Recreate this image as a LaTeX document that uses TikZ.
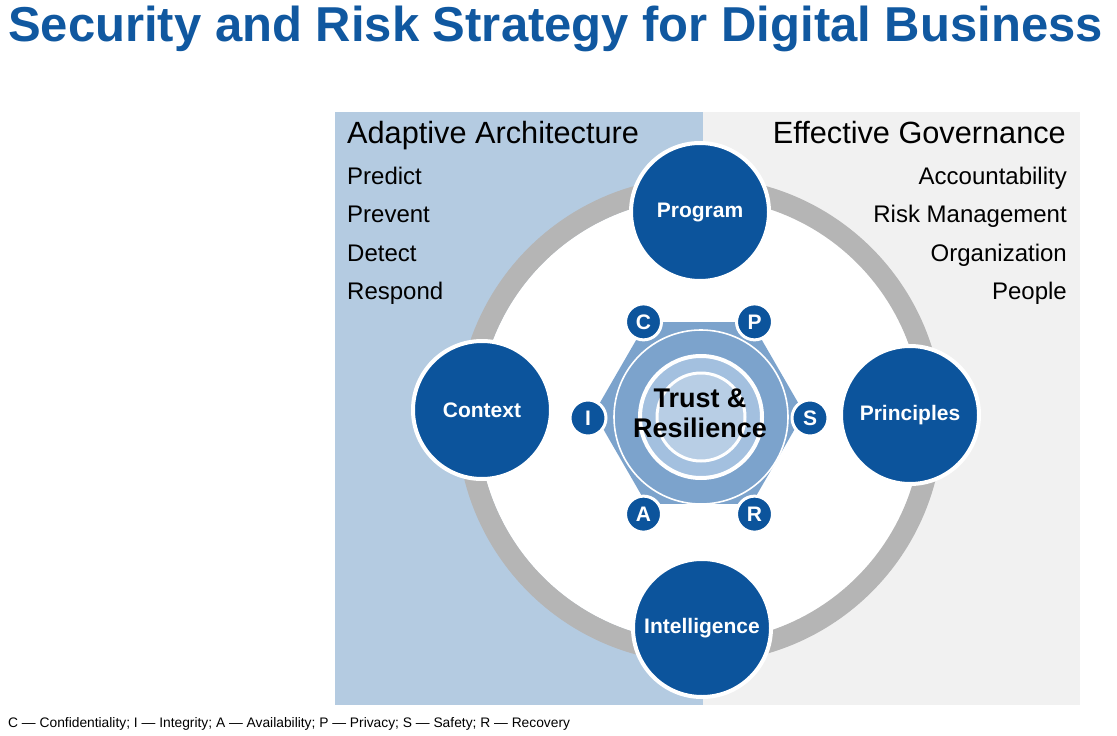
\documentclass[tikz,border=0pt]{standalone}
\usepackage{fontspec}
\setmainfont{Liberation Sans}
\usetikzlibrary{calc}

\definecolor{titleblue}{RGB}{16,88,160}
\definecolor{deepblue}{RGB}{12,84,156}
\definecolor{panelblue}{RGB}{180,203,225}
\definecolor{panelgray}{RGB}{241,241,241}
\definecolor{ringgray}{RGB}{181,181,181}
\definecolor{hexblue}{RGB}{124,163,204}
\definecolor{midblue}{RGB}{163,192,223}
\definecolor{coreblue}{RGB}{184,206,229}

\tikzset{
  pillar/.style={circle, fill=deepblue, draw=white, line width=4pt,
    minimum size=138pt, inner sep=0pt, text=white,
    font=\fontsize{21}{24}\selectfont\bfseries},
  badge/.style={circle, fill=deepblue, draw=white, line width=3pt,
    minimum size=36pt, inner sep=0pt, text=white,
    font=\fontsize{21}{23}\selectfont\bfseries},
  heading/.style={inner sep=0pt, font=\fontsize{30.7}{34}\selectfont},
  item/.style={inner sep=0pt, font=\fontsize{24}{28}\selectfont},
}

\begin{document}
\begin{tikzpicture}[x=1pt,y=-1pt]
  \useasboundingbox[fill=white] (0,0) rectangle (1117,736);

  % title
  \node[anchor=base west, inner sep=0pt, text=titleblue,
        font=\fontsize{49}{55}\selectfont\bfseries] (title) at (8,41)
        {Security and Risk Strategy for Digital Business};

  % two background panels
  \fill[panelblue] (335,112) rectangle (703,705);
  \fill[panelgray] (703,112) rectangle (1080,705);

  % panel headings and lists
  \node[heading, anchor=base west] (adapt) at (347,143) {Adaptive Architecture};
  \node[heading, anchor=base east] (gov) at (1066,143) {Effective Governance};
  \foreach \t [count=\i] in {Predict,Prevent,Detect,Respond}
    \node[item, anchor=base west] (l\i) at (347,{184+38.5*(\i-1)}) {\t};
  \foreach \t [count=\i] in {Accountability,Risk Management,Organization,People}
    \node[item, anchor=base east] (r\i) at (1067,{184+38.5*(\i-1)}) {\t};

  % white disc with the grey ring around it
  \coordinate (ctr) at (700,420);
  \fill[white] (ctr) circle[radius=222pt];
  \draw[ringgray, line width=21pt] (ctr) circle[radius=232.5pt];

  % hexagon core
  \coordinate (hc) at (699,413);
  \fill[hexblue] ($(hc)+(0:105pt)$) -- ($(hc)+(60:105pt)$) -- ($(hc)+(120:105pt)$)
     -- ($(hc)+(180:105pt)$) -- ($(hc)+(240:105pt)$) -- ($(hc)+(300:105pt)$) -- cycle;
  \coordinate (cc) at (701,417);
  \draw[white, line width=1.6pt] (cc) circle[radius=87pt];
  \fill[midblue] (cc) circle[radius=61pt];
  \draw[white, line width=4pt] (cc) circle[radius=61pt];
  \fill[coreblue] (cc) circle[radius=44pt];
  \draw[white, line width=3pt] (cc) circle[radius=44pt];
  \node[inner sep=0pt, align=center, font=\fontsize{27}{30}\selectfont\bfseries]
    (core) at (700,413) {Trust \&\\Resilience};

  % letter badges around the hexagon
  \coordinate (bc) at (699,418);
  \node[badge] (bC) at ($(bc)+(120:111pt)$) {C};
  \node[badge] (bP) at ($(bc)+(60:111pt)$) {P};
  \node[badge] (bI) at ($(bc)+(180:111pt)$) {I};
  \node[badge] (bS) at ($(bc)+(0:111pt)$) {S};
  \node[badge] (bA) at ($(bc)+(240:111pt)$) {A};
  \node[badge] (bR) at ($(bc)+(300:111pt)$) {R};

  % four pillars on the ring
  \node[pillar] (program) at (700,212) {Program};
  \node[pillar] (context) at (482,410) {Context};
  \node[pillar] (principles) at (910,415) {Principles};
  \node[pillar] (intel) at (702,628) {Intelligence};

  % footnote
  \node[anchor=base west, inner sep=0pt, font=\fontsize{13.8}{16}\selectfont]
    (legend) at (8,727)
    {C — Confidentiality; I — Integrity; A — Availability; P — Privacy; S — Safety; R — Recovery};
\end{tikzpicture}
\end{document}
